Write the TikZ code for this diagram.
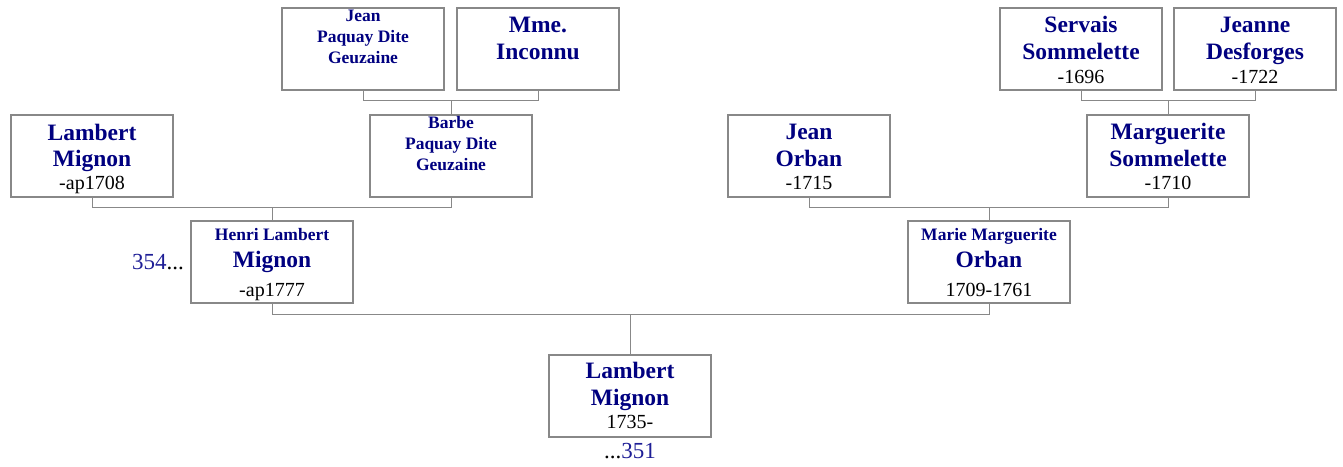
\documentclass[tikz,border=0pt]{standalone}
\usepackage{fontspec}
\setmainfont{Liberation Serif}
\usetikzlibrary{positioning}

\definecolor{namecol}{RGB}{0,0,128}
\definecolor{numcol}{RGB}{30,30,150}
\definecolor{boxgray}{RGB}{136,136,136}

% fonts of the cards
\newcommand\namefont{\fontsize{23.5}{27}\selectfont\bfseries\color{namecol}}
\newcommand\smallname{\fontsize{17.5}{21}\selectfont\bfseries\color{namecol}}
\newcommand\datefont{\fontsize{20}{23}\selectfont\color{black}}
% one line of a card: distance from the line above, font, text
\newcommand\pline[3]{\rule{0pt}{#1pt}\smash{#2#3}\par}
\newcommand\card[1]{\parbox[c][82pt][t]{162pt}{\centering\baselineskip=0pt\lineskip=0pt\lineskiplimit=1000pt #1}}

\tikzset{
  person/.style={draw=boxgray, line width=1.2pt, fill=white, inner sep=0pt,
    minimum width=162pt, minimum height=82pt},
  link/.style={draw=boxgray, line width=1pt},
  num/.style={font=\fontsize{23}{26}\selectfont, inner sep=0pt}
}

\begin{document}
\begin{tikzpicture}[x=1pt, y=-1pt]
\useasboundingbox (0,0) rectangle (1343,466);

% great-grandparents
\node[person] (jean) at (363,49) {\card{\pline{13}\smallname{Jean}\pline{21}\smallname{Paquay Dite}\pline{21}\smallname{Geuzaine}}};
\node[person] (mme) at (538,49) {\card{\pline{24}\namefont{Mme.}\pline{27}\namefont{Inconnu}}};
\node[person] (servais) at (1081,49) {\card{\pline{24}\namefont{Servais}\pline{27}\namefont{Sommelette}\pline{24}\datefont{-1696}}};
\node[person] (jeanne) at (1255,49) {\card{\pline{24}\namefont{Jeanne}\pline{27}\namefont{Desforges}\pline{24}\datefont{-1722}}};

% grandparents
\node[person] (lambertgf) at (92,156) {\card{\pline{25}\namefont{Lambert}\pline{26}\namefont{Mignon}\pline{23}\datefont{-ap1708}}};
\node[person] (barbe) at (451,156) {\card{\pline{13}\smallname{Barbe}\pline{21}\smallname{Paquay Dite}\pline{21}\smallname{Geuzaine}}};
\node[person] (jeanorban) at (809,156) {\card{\pline{24}\namefont{Jean}\pline{27}\namefont{Orban}\pline{23}\datefont{-1715}}};
\node[person] (marguerite) at (1168,156) {\card{\pline{24}\namefont{Marguerite}\pline{27}\namefont{Sommelette}\pline{23}\datefont{-1710}}};

% parents
\node[person] (henri) at (272,262) {\card{\pline{19}\smallname{Henri Lambert}\pline{27}\namefont{Mignon}\pline{29}\datefont{-ap1777}}};
\node[person] (marie) at (989,262) {\card{\pline{19}\smallname{Marie Marguerite}\pline{27}\namefont{Orban}\pline{29}\datefont{1709-1761}}};

% root
\node[person] (lambert) at (630,396) {\card{\pline{23}\namefont{Lambert}\pline{27}\namefont{Mignon}\pline{23}\datefont{1735-}}};

\node[num, anchor=base east] (prev) at (184,269) {\textcolor{numcol}{354}...};
\node[num, anchor=base] (next) at (630,458) {...\textcolor{numcol}{351}};

% families
\draw[link] (jean.south) |- ([yshift=14pt]barbe.north) -| (mme.south);
\draw[link] (barbe.north) -- ([yshift=14pt]barbe.north);
\draw[link] (servais.south) |- ([yshift=14pt]marguerite.north) -| (jeanne.south);
\draw[link] (marguerite.north) -- ([yshift=14pt]marguerite.north);
\draw[link] (lambertgf.south) |- ([yshift=13pt]henri.north) -| (barbe.south);
\draw[link] (henri.north) -- ([yshift=13pt]henri.north);
\draw[link] (jeanorban.south) |- ([yshift=13pt]marie.north) -| (marguerite.south);
\draw[link] (marie.north) -- ([yshift=13pt]marie.north);
\draw[link] (henri.south) |- ([yshift=40pt]lambert.north) -| (marie.south);
\draw[link] (lambert.north) -- ([yshift=40pt]lambert.north);
\end{tikzpicture}
\end{document}
